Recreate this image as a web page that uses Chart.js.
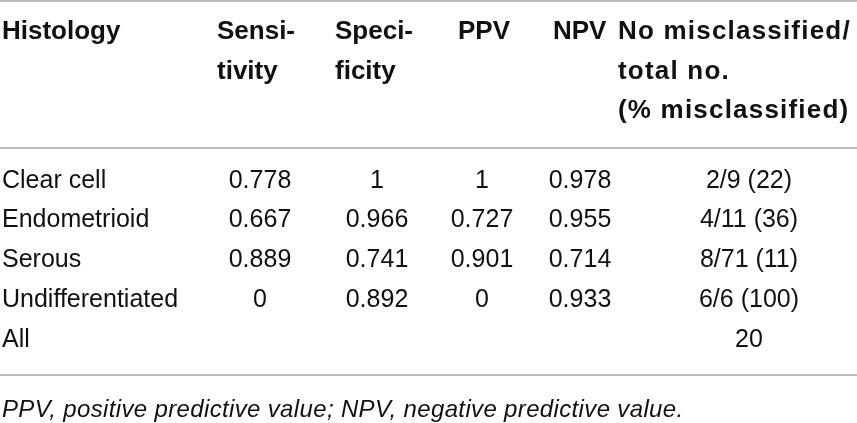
<!DOCTYPE html>
<html lang="en">
<head>
  <meta charset="UTF-8" />
  <title>Histology classification table</title>
  <script src="https://cdn.jsdelivr.net/npm/chart.js"></script>
  <style>
    html, body {
      margin: 0;
      padding: 0;
      background: #fff;
    }
    #table-container {
      width: 857px;
      height: 423px;
    }
  </style>
</head>
<body>
  <div id="table-container">
    <canvas id="tableChart" width="857" height="423"></canvas>
  </div>

  <script>
    // table contents
    const histology = ['Clear cell', 'Endometrioid', 'Serous', 'Undifferentiated', 'All'];
    const sensitivity = [0.778, 0.667, 0.889, 0, null];
    const specificity = [1, 0.966, 0.741, 0.892, null];
    const ppv = [1, 0.727, 0.901, 0, null];
    const npv = [0.978, 0.955, 0.714, 0.933, null];
    const misclassified = [2, 4, 8, 6, null];
    const totalNo = [9, 11, 71, 6, null];
    const pctMisclassified = [22, 36, 11, 100, null];
    const allMisclassified = 20;

    const headers = [
      ['Histology'],
      ['Sensi-', 'tivity'],
      ['Speci-', 'ficity'],
      ['PPV'],
      ['NPV'],
      ['No misclassified/', 'total no.', '(% misclassified)']
    ];
    const footnote = 'PPV, positive predictive value; NPV, negative predictive value.';

    // layout (in scale units, 1 unit = 1px of the 857x423 page)
    const colHeadLeft = [2, 217, 335, 458, 553, 618];
    const colCenter = [null, 260, 377, 482, 580, 749];
    const headSpacing = ['0px', '0px', '0px', '0px', '0px', '1.2px'];
    const headLineY = [32, 72, 111];
    const rowY = [181, 220, 260, 300, 340];
    const ruleY = [1, 148, 375];
    const footY = 410;

    const fmt = v => (v === null ? '' : String(v));
    const lastCol = histology.map((h, i) =>
      misclassified[i] === null ? String(allMisclassified)
        : `${misclassified[i]}/${totalNo[i]} (${pctMisclassified[i]})`);
    const bodyCols = [sensitivity.map(fmt), specificity.map(fmt), ppv.map(fmt), npv.map(fmt), lastCol];

    const tablePlugin = {
      id: 'tableDraw',
      afterDraw(chart) {
        const { ctx, scales: { x, y } } = chart;
        const fam = '"Liberation Sans", Arial, sans-serif';
        ctx.save();

        // horizontal rules
        ctx.strokeStyle = '#a3a3a3';
        ctx.lineWidth = 1.6;
        ruleY.forEach(v => {
          const py = y.getPixelForValue(v);
          ctx.beginPath();
          ctx.moveTo(x.getPixelForValue(0), py);
          ctx.lineTo(x.getPixelForValue(857), py);
          ctx.stroke();
        });

        ctx.fillStyle = '#111';
        ctx.textBaseline = 'middle';

        // header
        ctx.font = 'bold 26px ' + fam;
        ctx.textAlign = 'left';
        headers.forEach((lines, c) => {
          ctx.letterSpacing = headSpacing[c];
          lines.forEach((t, k) => {
            ctx.fillText(t, x.getPixelForValue(colHeadLeft[c]), y.getPixelForValue(headLineY[k]));
          });
        });
        ctx.letterSpacing = '0px';

        // body
        ctx.font = '25px ' + fam;
        histology.forEach((h, r) => {
          ctx.textAlign = 'left';
          ctx.fillText(h, x.getPixelForValue(colHeadLeft[0]), y.getPixelForValue(rowY[r]));
          ctx.textAlign = 'center';
          bodyCols.forEach((col, c) => {
            ctx.fillText(col[r], x.getPixelForValue(colCenter[c + 1]), y.getPixelForValue(rowY[r]));
          });
        });

        // footnote
        ctx.font = 'italic 24px ' + fam;
        ctx.letterSpacing = '0.35px';
        ctx.textAlign = 'left';
        ctx.fillText(footnote, x.getPixelForValue(2), y.getPixelForValue(footY));
        ctx.letterSpacing = '0px';

        ctx.restore();
      }
    };

    const ctx = document.getElementById('tableChart').getContext('2d');
    const chart = new Chart(ctx, {
      type: 'scatter',
      data: {
        datasets: [{
          data: histology.map((h, r) => ({ x: colHeadLeft[0], y: rowY[r] })),
          pointRadius: 0
        }]
      },
      options: {
        responsive: false,
        animation: false,
        events: [],
        layout: { padding: 0 },
        plugins: {
          legend: { display: false },
          tooltip: { enabled: false }
        },
        scales: {
          x: { type: 'linear', min: 0, max: 857, display: false },
          y: { type: 'linear', min: 0, max: 423, reverse: true, display: false }
        }
      },
      plugins: [tablePlugin]
    });
  </script>
</body>
</html>
